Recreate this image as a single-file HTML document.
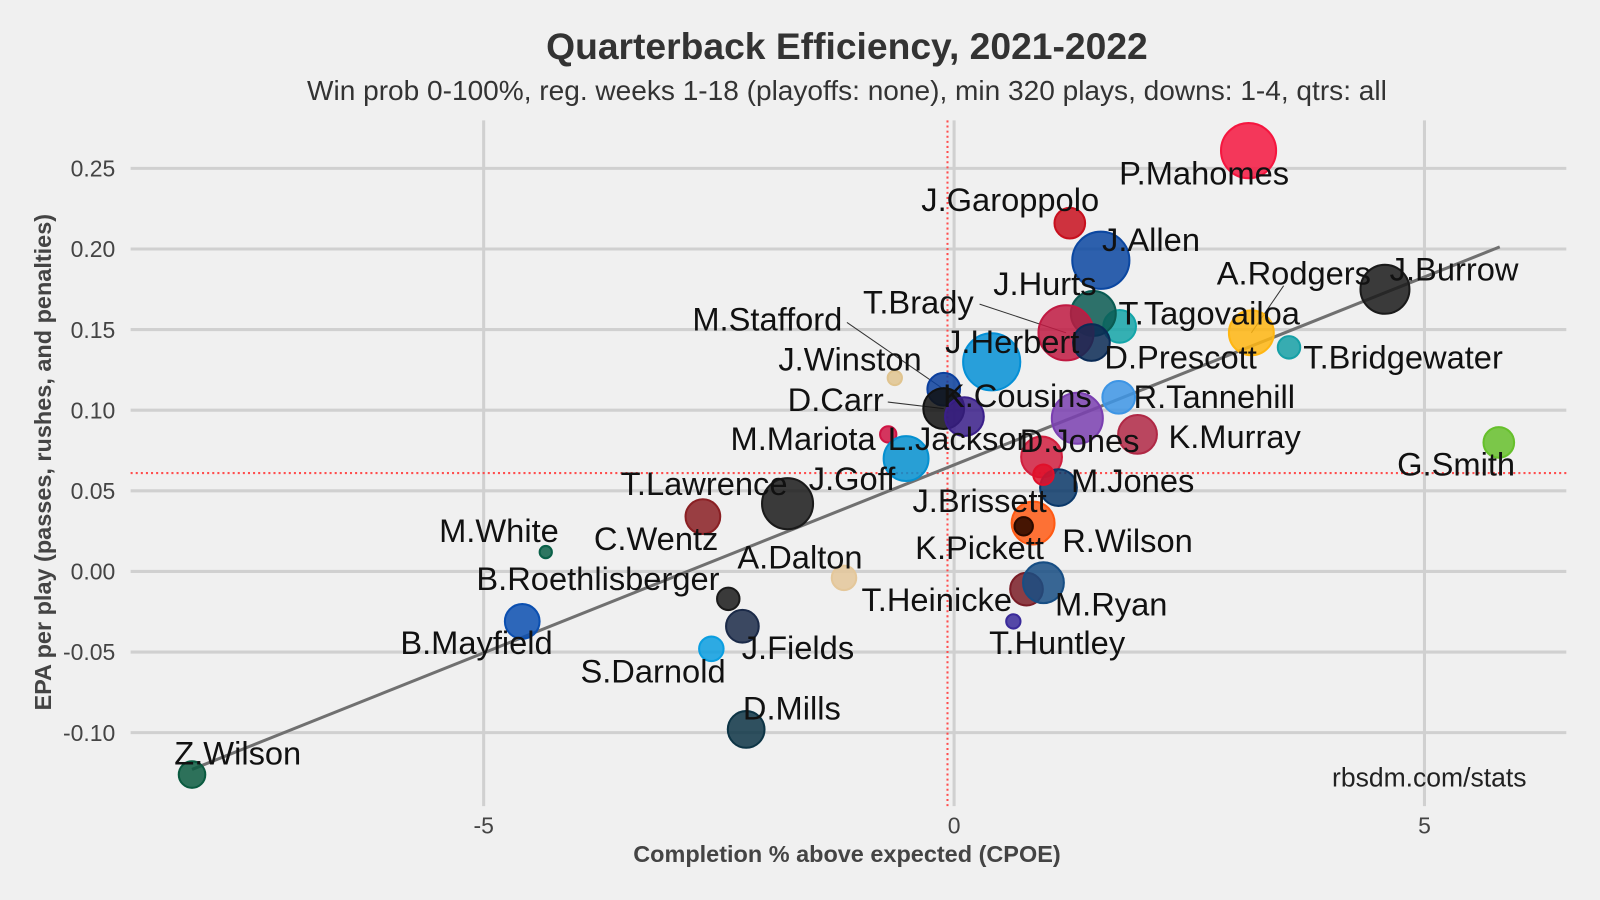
<!DOCTYPE html>
<html><head><meta charset="utf-8"><style>
body{margin:0;background:#f0f0f0;}
svg{display:block;font-family:"Liberation Sans",sans-serif;}
</style></head><body>
<svg width="1600" height="900" viewBox="0 0 1600 900">
<rect width="1600" height="900" fill="#f0f0f0"/>
<g transform="scale(1.0204)">
<text x="830" y="58" text-anchor="middle" font-size="36.5" font-weight="bold" fill="#333">Quarterback Efficiency, 2021-2022</text>
<text x="830" y="98" text-anchor="middle" font-size="27.5" fill="#333">Win prob 0-100%, reg. weeks 1-18 (playoffs: none), min 320 plays, downs: 1-4, qtrs: all</text>
<g id="grid"></g><g id="refs"></g><g id="trend"></g><g id="leaders"></g><g id="pts"></g><g id="lbls"></g><g id="ticks"></g>
<text x="830" y="845" text-anchor="middle" font-size="23" font-weight="bold" fill="#444">Completion % above expected (CPOE)</text>
<text transform="translate(50,453) rotate(-90)" text-anchor="middle" font-size="23" font-weight="bold" fill="#444">EPA per play (passes, rushes, and penalties)</text>
<text x="1496" y="771" text-anchor="end" font-size="26" fill="#222">rbsdm.com/stats</text>
</g>
</svg>
<script>
const names=["P.Mahomes","J.Garoppolo","J.Allen","J.Burrow","A.Rodgers","T.Tagovailoa","T.Bridgewater","J.Hurts","T.Brady","D.Prescott","J.Herbert","M.Stafford","J.Winston","D.Carr","L.Jackson","K.Cousins","R.Tannehill","K.Murray","M.Mariota","D.Jones","J.Goff","M.Jones","J.Brissett","R.Wilson","K.Pickett","T.Lawrence","C.Wentz","M.White","A.Dalton","B.Roethlisberger","J.Fields","B.Mayfield","S.Darnold","T.Heinicke","M.Ryan","T.Huntley","D.Mills","Z.Wilson","G.Smith","X.Red"];
const cpoe=[3.13,1.23,1.56,4.58,3.16,1.76,3.56,1.48,1.19,1.46,0.40,-0.11,-0.63,-0.11,0.11,1.31,1.75,1.95,-0.70,0.93,-0.51,1.11,0.74,0.84,0.74,-2.67,-1.77,-4.34,-1.17,-2.40,-2.25,-4.59,-2.58,0.77,0.95,0.63,-2.21,-8.10,5.79,0.95];
const epa=[0.261,0.216,0.193,0.175,0.148,0.152,0.139,0.160,0.148,0.142,0.130,0.113,0.120,0.101,0.096,0.095,0.108,0.085,0.085,0.071,0.070,0.052,0.028,0.030,0.028,0.034,0.042,0.012,-0.004,-0.017,-0.034,-0.031,-0.048,-0.011,-0.007,-0.031,-0.098,-0.126,0.080,0.060];
const sizes=[27,15,28,24,22,16,11,22,27,18,28,16,7,20,19,25,16,19,8,20,22,18,9,21,9,17,25,6,12,11,16,17,12,16,20,7,18,13,15,10];
const colors=["#f5163f","#c8101e","#0b47a1","#1a1a1a","#ffb612","#14a5a8","#16a0a6","#0a5b52","#c01a42","#0a2a55","#0590d6","#0b3f9e","#e0c48f","#111111","#3a1f8a","#7a3fb0","#3d95e5","#b02845","#cf1444","#d11f3f","#0590d0","#0a3869","#2a0a00","#ff5a14","#2a0a00","#8a1f23","#1a1a1a","#0a6048","#e4c79a","#1a1a1a","#1b2a48","#0b4fb0","#0b9ee0","#7a1d27","#174e84","#3a2a9a","#0d3445","#0a5a40","#66c02b","#e0102a"];
const labelX=[1180,990,1128,1425,1268,1185,1375,1024,900,1157,992,752,833,819,942,997,1190,1210,787,1058,835,1110,960,1105,960,690,643,489,784,586,782,467,640,918,1089,1036,776,233,1427,-999];
const labelY=[170,196,235,264,268,307,350,278,296,350,335,313,352,392,430,388,389,428,430,432,469,471,491,530,537,474,528,520,546,567,635,630,658,588,592,630,694,738,455,-999];
const xTicks=[-5,0,5];
const yTicks=[0.25,0.20,0.15,0.10,0.05,0.00,-0.05,-0.10];
const yTickLabels=["0.25","0.20","0.15","0.10","0.05","0.00","-0.05","-0.10"];
const meanCpoe=-0.07, meanEpa=0.061;
const trendX=[-8.1,5.8], trendY=[-0.1228,0.2013];
const X=v=>935+v*92.2, Y=v=>560-v*1580;
const NS="http://www.w3.org/2000/svg";
function mk(t,a,p){const e=document.createElementNS(NS,t);for(const k in a)e.setAttribute(k,a[k]);p.appendChild(e);return e;}
const grid=document.getElementById('grid');
yTicks.forEach((t,i)=>{const l=mk('line',{x1:128,x2:1535,y1:Y(t),y2:Y(t),stroke:'#d0d0d0','stroke-width':3},grid);


const tx=mk('text',{x:113,y:Y(t)+8,'text-anchor':'end','font-size':22.5,fill:'#444'},document.getElementById('ticks'));tx.textContent=yTickLabels[i];

});
xTicks.forEach(t=>{const l=mk('line',{x1:X(t),x2:X(t),y1:118,y2:790,stroke:'#d0d0d0','stroke-width':3},grid);


const tx=mk('text',{x:X(t),y:817,'text-anchor':'middle','font-size':22.5,fill:'#444'},document.getElementById('ticks'));tx.textContent=t;

});
const refs=document.getElementById('refs');
const rv=mk('line',{x1:X(meanCpoe),x2:X(meanCpoe),y1:118,y2:790,stroke:'#ff4d4d','stroke-width':2,'stroke-dasharray':'2,3'},refs);


const rh=mk('line',{x1:128,x2:1535,y1:Y(meanEpa),y2:Y(meanEpa),stroke:'#ff4d4d','stroke-width':2,'stroke-dasharray':'2,3'},refs);


const tl=mk('line',{x1:X(trendX[0]),x2:X(trendX[1]),y1:Y(trendY[0]),y2:Y(trendY[1]),stroke:'#707070','stroke-width':3},document.getElementById('trend'));


const leaders={"A.Rodgers":[1258,280],"T.Brady":[960,298],"M.Stafford":[830,316],"D.Carr":[870,394]};
const pts=document.getElementById('pts'),lb=document.getElementById('lbls'),ld=document.getElementById('leaders');
names.forEach((n,i)=>{
 const c=mk('circle',{cx:X(cpoe[i]),cy:Y(epa[i]),r:sizes[i],fill:colors[i],'fill-opacity':0.85,stroke:colors[i],'stroke-width':2},pts);
 
 
 if(labelX[i]<0)return;
 if(leaders[n]){const l=mk('line',{x1:leaders[n][0],y1:leaders[n][1],x2:X(cpoe[i]),y2:Y(epa[i]),stroke:'#333','stroke-width':1},ld);
  
  }
 const t=mk('text',{x:labelX[i],y:labelY[i]+11,'text-anchor':'middle','font-size':32,fill:'#111'},lb);t.textContent=n;
 
 
});
</script>
</body></html>
